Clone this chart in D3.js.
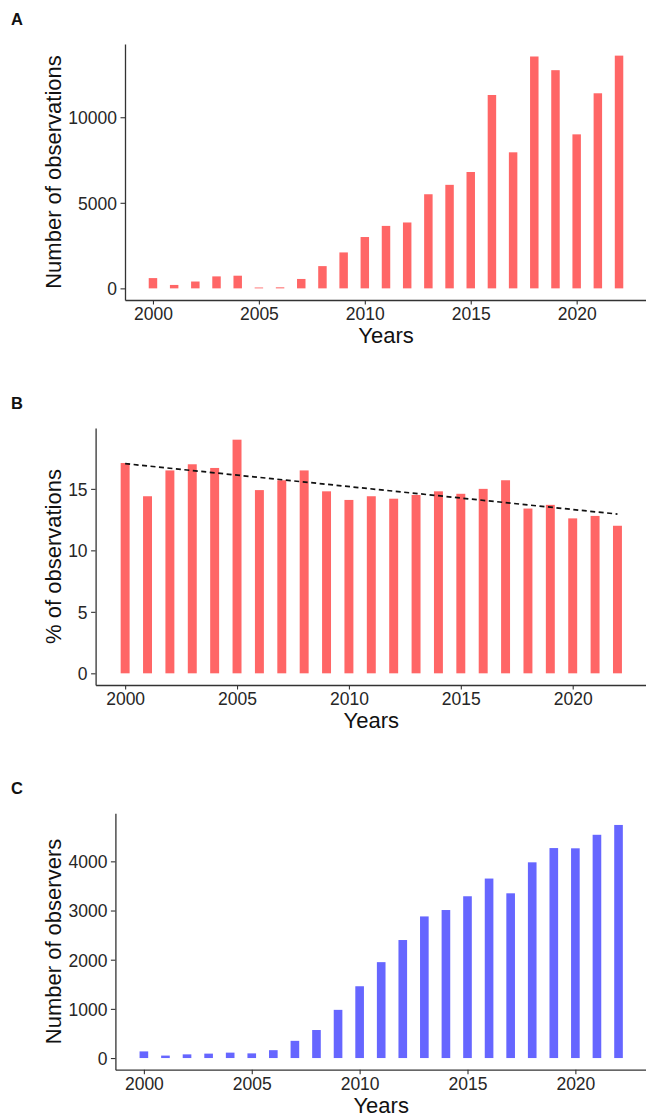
<!DOCTYPE html>
<html>
<head>
<meta charset="utf-8">
<script src="https://cdn.jsdelivr.net/npm/d3@7"></script>
<style>
  html, body { margin: 0; padding: 0; background: #fff; }
  svg { display: block; }
</style>
</head>
<body>
<script>
// data
const years = d3.range(2000, 2023);

const observations = [600, 200, 400, 700, 740, 50, 60, 550, 1300, 2100, 3000, 3650, 3850,
    5500, 6050, 6800, 11300, 7950, 13550, 12750, 9000, 11400, 13600];

const pctObservations = [17.1, 14.4, 16.5, 17.0, 16.7, 19.0, 14.9, 15.7, 16.5, 14.8, 14.1, 14.4,
    14.2, 14.5, 14.8, 14.6, 15.0, 15.7, 13.4, 13.7, 12.6, 12.8, 12.0];

// fitted trend (dashed line), endpoints
const trendYears = [2000, 2022];
const trendPct = [17.05, 12.95];

const observers = [135, 50, 75, 90, 110, 95, 160, 350, 570, 980, 1460, 1950, 2400,
    2880, 3010, 3290, 3650, 3350, 3980, 4270, 4265, 4540, 4740];

const xTicks = [2000, 2005, 2010, 2015, 2020];
const ticksA = [0, 5000, 10000];
const ticksB = [0, 5, 10, 15];
const ticksC = [0, 1000, 2000, 3000, 4000];

// layout
const W = 646, H = 1119;
const plotRight = 647;
const barWidth = 0.4;  // in years
const font = 'Liberation Sans, Arial, Helvetica, sans-serif';
const axisColor = '#333';
const textColor = '#262626';
const red = '#ff6666';
const blue = '#6666ff';

const svg = d3.select('body')
    .append('svg')
    .attr('width', W)
    .attr('height', H);

function panel(opt) {
    const g = svg.append('g');

    // ggplot style 5% expansion on both axes
    const xlo = d3.min(years) - barWidth / 2, xhi = d3.max(years) + barWidth / 2;
    const xpad = (xhi - xlo) * 0.05;
    const x = d3.scaleLinear()
        .domain([xlo - xpad, xhi + xpad])
        .range([opt.left, plotRight]);

    const ymax = d3.max(opt.values);
    const y = d3.scaleLinear()
        .domain([-ymax * 0.05, ymax * 1.05])
        .range([opt.bottom, opt.top]);

    const bw = x(2000 + barWidth) - x(2000);

    // bars
    g.selectAll('rect.bar')
        .data(years.map((yr, i) => [yr, opt.values[i]]))
        .enter()
        .append('rect')
        .attr('class', 'bar')
        .attr('x', d => x(d[0]) - bw / 2)
        .attr('y', d => y(d[1]))
        .attr('width', bw)
        .attr('height', d => y(0) - y(d[1]))
        .attr('fill', opt.fill);

    if (opt.trend) {
        g.append('path')
            .datum(trendYears.map((yr, i) => [yr, trendPct[i]]))
            .attr('fill', 'none')
            .attr('stroke', '#111')
            .attr('stroke-width', 1.7)
            .attr('stroke-dasharray', '5,3.5')
            .attr('d', d3.line()
                .x(d => x(d[0]))
                .y(d => y(d[1])));
    }

    // axes
    const xAxis = g.append('g')
        .attr('transform', `translate(0,${opt.bottom})`)
        .call(d3.axisBottom(x).tickValues(xTicks).tickFormat(d3.format('d'))
            .tickSizeInner(4.5).tickSizeOuter(0).tickPadding(3));

    const yAxis = g.append('g')
        .attr('transform', `translate(${opt.left},0)`)
        .call(d3.axisLeft(y).tickValues(opt.ticks).tickFormat(d3.format('d'))
            .tickSizeInner(4.5).tickSizeOuter(0).tickPadding(3.5));

    [xAxis, yAxis].forEach(a => {
        a.select('.domain').attr('stroke', axisColor).attr('stroke-width', 1.3);
        a.selectAll('.tick line').attr('stroke', axisColor).attr('stroke-width', 1.1);
        a.selectAll('.tick text')
            .attr('fill', textColor)
            .style('font-family', font)
            .style('font-size', '17.5px');
    });
    xAxis.selectAll('.tick text').attr('dy', null).attr('y', 20).attr('dominant-baseline', 'auto');
    yAxis.selectAll('.tick text').attr('dy', '0.36em');

    // axis titles
    g.append('text')
        .text('Years')
        .attr('x', (opt.left + plotRight) / 2)
        .attr('y', opt.bottom + 43)
        .attr('text-anchor', 'middle')
        .attr('fill', '#111')
        .style('font-family', font)
        .style('font-size', '22px');

    g.append('text')
        .text(opt.ylabel)
        .attr('transform', `translate(61,${(opt.top + opt.bottom) / 2}) rotate(-90)`)
        .attr('text-anchor', 'middle')
        .attr('fill', '#111')
        .style('font-family', font)
        .style('font-size', '22px');

    // panel letter
    g.append('text')
        .text(opt.letter)
        .attr('x', 11)
        .attr('y', opt.top - 19.5)
        .attr('fill', '#111')
        .style('font-family', font)
        .style('font-weight', 'bold')
        .style('font-size', '16.5px');
}

panel({letter: 'A', values: observations, ticks: ticksA, fill: red,
    ylabel: 'Number of observations', left: 125, top: 44, bottom: 300});

panel({letter: 'B', values: pctObservations, ticks: ticksB, fill: red, trend: true,
    ylabel: '% of observations', left: 95.6, top: 428, bottom: 685});

panel({letter: 'C', values: observers, ticks: ticksC, fill: blue,
    ylabel: 'Number of observers', left: 115.4, top: 813.3, bottom: 1069.7});
</script>
</body>
</html>
